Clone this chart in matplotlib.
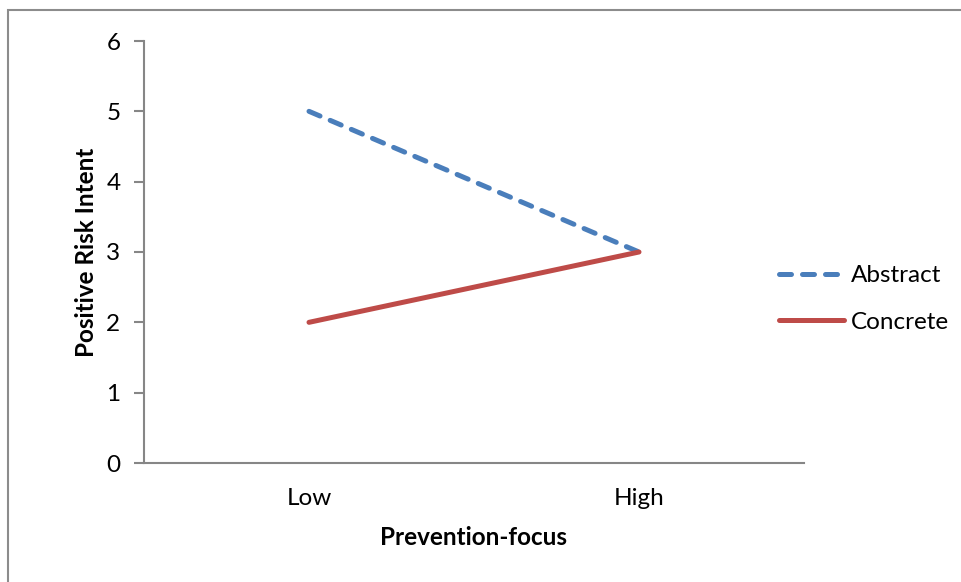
import matplotlib.pyplot as plt
from matplotlib.patches import Rectangle
from matplotlib.lines import Line2D

categories = ['Low', 'High']
abstract = [5, 3]
concrete = [2, 3]
y_ticks = [0, 1, 2, 3, 4, 5, 6]

plt.rcParams['font.family'] = ['Lato', 'DejaVu Sans']

BLUE = '#4a7ebb'
RED = '#be4b48'
GRAY = '#868686'
FS = 17.5

fig = plt.figure(figsize=(9.62, 5.82), dpi=100)
W, H = 962, 582

# outer chart frame
fig.patches.append(Rectangle((8 / W, -0.1), 1.2, (H - 10) / H + 0.1,
                             transform=fig.transFigure, fill=False,
                             edgecolor='#8c8c8c', linewidth=1.5))

ax = fig.add_axes([144 / W, (H - 463) / H, (804 - 144) / W, (463 - 41) / H])
x = list(range(len(categories)))

ax.plot(x, abstract, color=BLUE, linewidth=3.6, solid_capstyle='round',
        dash_capstyle='round', dashes=(2.4, 2.2), label='Abstract')
ax.plot(x, concrete, color=RED, linewidth=3.6, solid_capstyle='round',
        label='Concrete')

ax.set_xlim(-0.5, 1.5)
ax.set_ylim(0, 6)
ax.set_yticks(y_ticks)
ax.set_xticks(x)
ax.set_xticklabels(categories)

for side in ['top', 'right']:
    ax.spines[side].set_visible(False)
for side in ['left', 'bottom']:
    ax.spines[side].set_color(GRAY)
    ax.spines[side].set_linewidth(1.5)

ax.tick_params(axis='y', direction='out', length=7, width=1.5, color=GRAY,
               labelsize=FS, pad=10)
ax.tick_params(axis='x', length=0, labelsize=FS, pad=18)

ax.set_xlabel('Prevention-focus', fontsize=FS, fontweight='bold', labelpad=12)
ax.set_ylabel('Positive Risk Intent', fontsize=FS, fontweight='bold', labelpad=6)

handles = [Line2D([], [], color=BLUE, linewidth=3.6, dash_capstyle='round',
                  dashes=(2.4, 2.2)),
           Line2D([], [], color=RED, linewidth=3.6, solid_capstyle='round')]
fig.legend(handles, ['Abstract', 'Concrete'], loc='center left',
           bbox_to_anchor=(757 / W, (H - 299) / H), frameon=False,
           fontsize=FS, handlelength=2.7, handletextpad=0.25, labelspacing=1.05)

fig.savefig('out.png', dpi=100)
